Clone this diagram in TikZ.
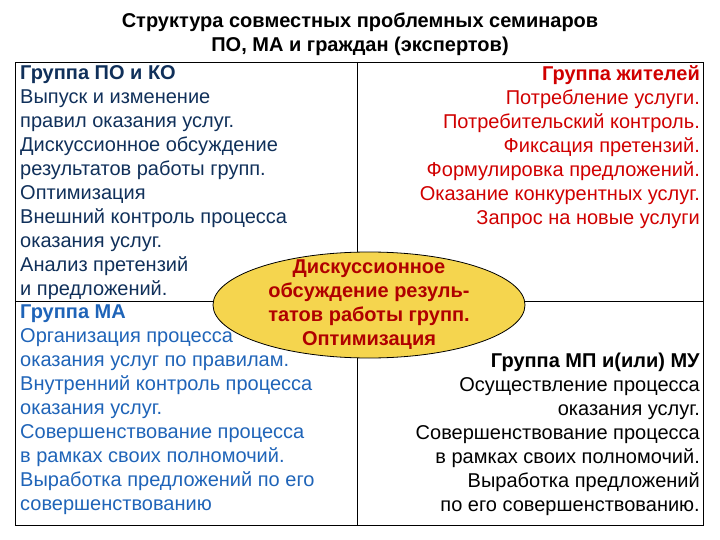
\documentclass[tikz,border=0pt]{standalone}
\usepackage{fontspec}
\setmainfont{Liberation Sans}
\usetikzlibrary{shapes.geometric}
\definecolor{navy}{HTML}{10305A}
\definecolor{mablue}{HTML}{1F64B8}
\definecolor{resred}{HTML}{D00000}
\definecolor{ellfill}{HTML}{F5D54E}
\definecolor{elltext}{HTML}{B00000}
\tikzset{txt/.style={inner sep=0pt,font=\fontsize{20}{24}\selectfont}}
\begin{document}
\begin{tikzpicture}[x=1pt,y=-1pt]
\useasboundingbox (0,0) rectangle (720,540);
\node[txt,font=\fontsize{20}{24}\selectfont\bfseries,align=center] (title) at (360,34) {Структура совместных проблемных семинаров\\ПО, МА и граждан (экспертов)};
\draw[line width=0.8pt] (15,62) rectangle (703,525);
\coordinate (vt) at (357,62); \coordinate (vb) at (357,525);
\coordinate (hl) at (15,301); \coordinate (hr) at (703,301);
\draw[line width=0.8pt] (vt) -- (vb);
\draw[line width=0.8pt] (hl) -- (hr);
\node[txt,anchor=north west,align=left,text=navy] (lt) at (20,65) {\textbf{Группа ПО и КО}\\Выпуск и изменение\\правил оказания услуг.\\Дискуссионное обсуждение\\результатов работы групп.\\Оптимизация\\Внешний контроль процесса\\оказания услуг.\\Анализ претензий\\и предложений.};
\node[txt,anchor=north west,align=left,text=mablue] (lb) at (20,305) {\textbf{Группа МА}\\Организация процесса\\оказания услуг по правилам.\\Внутренний контроль процесса\\оказания услуг.\\Совершенствование процесса\\в рамках своих полномочий.\\Выработка предложений по его\\совершенствованию};
\node[txt,anchor=north east,align=right,text=resred] (rt) at (700,65) {\textbf{Группа жителей}\\Потребление услуги.\\Потребительский контроль.\\Фиксация претензий.\\Формулировка предложений.\\Оказание конкурентных услуг.\\Запрос на новые услуги};
\node[txt,anchor=north east,align=right,text=black] (rb) at (700,353) {\textbf{Группа МП и(или) МУ}\\Осуществление процесса\\оказания услуг.\\Совершенствование процесса\\в рамках своих полномочий.\\Выработка предложений\\по его совершенствованию.};
\node[ellipse,draw=black,line width=0.8pt,fill=ellfill,minimum width=312pt,minimum height=106pt,inner sep=0pt] (ell) at (369,305) {};
\node[txt,align=center,text=elltext,font=\fontsize{20}{24}\selectfont\bfseries] (elltxt) at (ell.center) {Дискуссионное\\обсуждение резуль-\\татов работы групп.\\Оптимизация};
\end{tikzpicture}
\end{document}
